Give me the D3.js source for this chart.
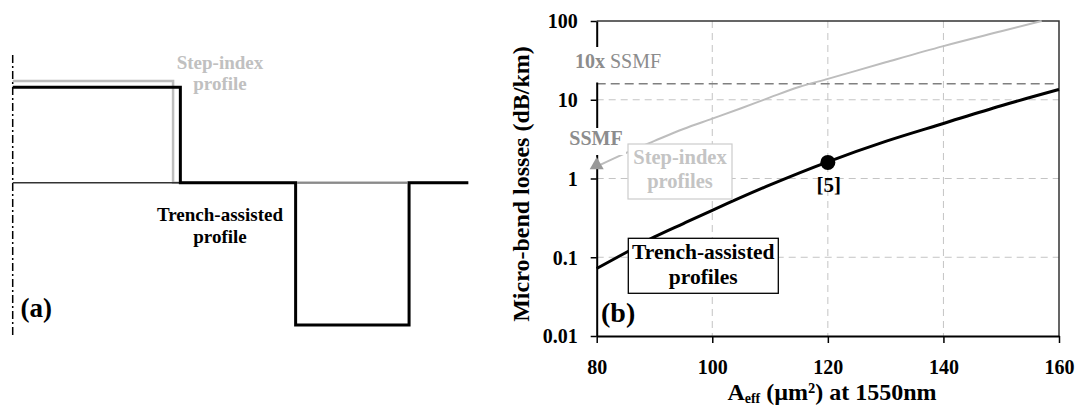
<!DOCTYPE html>
<html><head><meta charset="utf-8">
<script src="https://cdn.jsdelivr.net/npm/d3@7"></script>
<style>
html,body{margin:0;padding:0;background:#fff;}
svg{display:block;font-family:"Liberation Serif","Times New Roman",serif;font-weight:bold;}
</style></head>
<body>
<svg id="chart" width="1077" height="405"></svg>
<script>
// ---------- data: panel (a) index profiles (radius in %, index in arbitrary units)
const stepR = [0, 35.2, 35.2, 100];
const stepN = [5.0, 5.0, 0, 0];
const trenchR = [0, 36.8, 36.8, 62.1, 62.1, 87.0, 87.0, 100];
const trenchN = [4.69, 4.69, 0, 0, -7.0, -7.0, 0, 0];

// ---------- data: panel (b) micro-bend losses
const xTicks = [80, 100, 120, 140, 160];
const yTicks = [0.01, 0.1, 1, 10, 100];
const yTickLabels = ["0.01", "0.1", "1", "10", "100"];
const stepAeff = [80, 85, 90, 95, 100, 105, 110, 115, 120, 130, 140, 150, 157];
const stepLoss = [1.42, 2.1, 3.0, 4.25, 5.75, 7.8, 10.7, 14.5, 18.4, 29.9, 48, 74, 100];
const trenchAeff = [80, 85, 90, 95, 100, 110, 120, 130, 140, 150, 160];
const trenchLoss = [0.072, 0.114, 0.181, 0.268, 0.395, 0.83, 1.63, 2.96, 5.0, 8.4, 13.5];
const ssmfAeff = 80, ssmfLoss = 1.48;
const tenSsmfLoss = 16;
const refAeff = 120, refLoss = 1.6;

const FONT = "Liberation Serif, Times New Roman, serif";
const svg = d3.select("#chart");

// ================= Panel (a) =================
const ga = svg.append("g");
const ax = d3.scaleLinear().domain([0, 100]).range([12.7, 468.3]);
const ay = d3.scaleLinear().domain([0, 5]).range([182.7, 81]);

ga.append("line").attr("x1", ax(0)).attr("x2", ax(0)).attr("y1", 55).attr("y2", 338)
  .attr("stroke", "#000").attr("stroke-width", 1.5).attr("stroke-dasharray", "8,3,2,3");

const lineA = d3.line().x(d => ax(d[0])).y(d => ay(d[1]));
ga.append("path").datum(d3.zip(stepR, stepN)).attr("d", lineA)
  .attr("fill", "none").attr("stroke", "#bdbdbd").attr("stroke-width", 2.5);
ga.append("line").attr("x1", ax(0)).attr("x2", ax(36.8)).attr("y1", ay(0)).attr("y2", ay(0))
  .attr("stroke", "#333").attr("stroke-width", 1.6);
ga.append("path").datum(d3.zip(trenchR, trenchN)).attr("d", lineA)
  .attr("fill", "none").attr("stroke", "#000").attr("stroke-width", 3);
ga.append("line").attr("x1", ax(62.1) + 1.5).attr("x2", ax(87.0) - 1.5).attr("y1", ay(0)).attr("y2", ay(0))
  .attr("stroke", "#8a8a8a").attr("stroke-width", 2);

ga.append("text").attr("x", 220).attr("y", 68.5).attr("text-anchor", "middle")
  .attr("font-size", 19).attr("fill", "#c0c0c0").text("Step-index");
ga.append("text").attr("x", 220).attr("y", 89.5).attr("text-anchor", "middle")
  .attr("font-size", 19).attr("fill", "#c0c0c0").text("profile");
ga.append("text").attr("x", 220).attr("y", 221).attr("text-anchor", "middle")
  .attr("font-size", 19).attr("fill", "#000").text("Trench-assisted");
ga.append("text").attr("x", 220).attr("y", 242.5).attr("text-anchor", "middle")
  .attr("font-size", 19).attr("fill", "#000").text("profile");
ga.append("text").attr("x", 20.5).attr("y", 317).attr("font-size", 27).attr("fill", "#000").text("(a)");

// ================= Panel (b) =================
const L = 596.7, R = 1059, T = 21, B = 336;
const x = d3.scaleLinear().domain([80, 160]).range([L, R]);
const y = d3.scaleLog().domain([0.01, 100]).range([B, T]);
const gb = svg.append("g");

gb.selectAll(".vg").data(xTicks.slice(1, -1)).join("line")
  .attr("x1", d => x(d)).attr("x2", d => x(d)).attr("y1", T).attr("y2", B)
  .attr("stroke", "#c4c4c4").attr("stroke-width", 1).attr("stroke-dasharray", "7,5");
gb.selectAll(".hg").data(yTicks.slice(1, -1)).join("line")
  .attr("x1", L).attr("x2", R).attr("y1", d => y(d)).attr("y2", d => y(d))
  .attr("stroke", "#c4c4c4").attr("stroke-width", 1).attr("stroke-dasharray", "7,5");
gb.append("line").attr("x1", L).attr("x2", R).attr("y1", y(tenSsmfLoss)).attr("y2", y(tenSsmfLoss))
  .attr("stroke", "#808080").attr("stroke-width", 1.5).attr("stroke-dasharray", "9,5");

gb.append("path").attr("d", `M${L},${T}H${R}V${B}`).attr("fill", "none")
  .attr("stroke", "#333").attr("stroke-width", 1.5);

const lineB = d3.line().x(d => x(d[0])).y(d => y(d[1])).curve(d3.curveMonotoneX);
gb.append("path").datum(d3.zip(stepAeff, stepLoss)).attr("d", lineB)
  .attr("fill", "none").attr("stroke", "#bdbdbd").attr("stroke-width", 2);
gb.append("path").datum(d3.zip(trenchAeff, trenchLoss)).attr("d", lineB)
  .attr("fill", "none").attr("stroke", "#000").attr("stroke-width", 3);

const yAxis = d3.axisLeft(y).tickValues(yTicks).tickFormat((d, i) => yTickLabels[i])
  .tickSize(6).tickSizeOuter(0);
const gy = gb.append("g").attr("transform", `translate(${L},0)`).call(yAxis);
gy.select(".domain").attr("stroke", "#000").attr("stroke-width", 2);
gy.selectAll(".tick line").attr("stroke", "#000").attr("stroke-width", 1.5);
gy.selectAll(".tick text").attr("font-size", 20).attr("font-family", FONT)
  .attr("font-weight", "bold").attr("fill", "#000").attr("x", -19).attr("dy", "0.34em");

const xAxis = d3.axisBottom(x).tickValues(xTicks).tickFormat(d3.format("d"))
  .tickSize(7).tickSizeOuter(0);
const gx = gb.append("g").attr("transform", `translate(0,${B})`).call(xAxis);
gx.select(".domain").attr("stroke", "#000").attr("stroke-width", 2);
gx.selectAll(".tick line").attr("stroke", "#000").attr("stroke-width", 1.5);
gx.selectAll(".tick text").attr("font-size", 20).attr("font-family", FONT)
  .attr("font-weight", "bold").attr("fill", "#000").attr("y", 37.5).attr("dy", 0);

gb.append("text").attr("transform", `translate(529,184) rotate(-90)`)
  .attr("text-anchor", "middle").attr("font-size", 24).attr("fill", "#000")
  .text("Micro-bend losses (dB/km)");
const xt = gb.append("text").attr("x", 832).attr("y", 400).attr("text-anchor", "middle")
  .attr("font-size", 24).attr("fill", "#000");
xt.append("tspan").text("A");
xt.append("tspan").attr("font-size", 14).attr("dy", 3).text("eff");
xt.append("tspan").attr("dy", -3).text(" (µm²) at 1550nm");

gb.append("rect").attr("x", 568).attr("y", 47).attr("width", 98).attr("height", 35.5).attr("fill", "#fff");
const t10 = gb.append("text").attr("x", 575).attr("y", 67.5).attr("font-size", 20).attr("fill", "#8c8c8c");
t10.append("tspan").text("10x ");
t10.append("tspan").attr("font-weight", "normal").text("SSMF");

gb.append("rect").attr("x", 566).attr("y", 128).attr("width", 60).attr("height", 27).attr("fill", "#fff");
gb.append("text").attr("x", 596).attr("y", 145).attr("text-anchor", "middle")
  .attr("font-size", 20).attr("fill", "#8c8c8c").text("SSMF");
gb.append("path").attr("d", d3.symbol(d3.symbolTriangle, 85))
  .attr("transform", `translate(${x(ssmfAeff)},${y(ssmfLoss)})`).attr("fill", "#999");

gb.append("rect").attr("x", 628).attr("y", 144).attr("width", 104).attr("height", 55)
  .attr("fill", "#fff").attr("stroke", "#cccccc").attr("stroke-width", 1.2);
gb.append("text").attr("x", 680).attr("y", 163.5).attr("text-anchor", "middle")
  .attr("font-size", 20.5).attr("fill", "#c4c4c4").text("Step-index");
gb.append("text").attr("x", 680).attr("y", 188).attr("text-anchor", "middle")
  .attr("font-size", 20.5).attr("fill", "#c4c4c4").text("profiles");

gb.append("rect").attr("x", 628.3).attr("y", 238.3).attr("width", 150).attr("height", 55)
  .attr("fill", "#fff").attr("stroke", "#000").attr("stroke-width", 1.3);
gb.append("text").attr("x", 703.3).attr("y", 258.5).attr("text-anchor", "middle")
  .attr("font-size", 21.5).attr("fill", "#000").text("Trench-assisted");
gb.append("text").attr("x", 703.3).attr("y", 283.5).attr("text-anchor", "middle")
  .attr("font-size", 21.5).attr("fill", "#000").text("profiles");

gb.append("circle").attr("cx", x(refAeff)).attr("cy", y(refLoss)).attr("r", 7.5).attr("fill", "#000");
gb.append("text").attr("x", x(refAeff) + 1).attr("y", 191.5).attr("text-anchor", "middle")
  .attr("font-size", 21).attr("fill", "#000").text("[5]");

gb.append("text").attr("x", 601).attr("y", 322).attr("font-size", 28).attr("fill", "#000").text("(b)");
</script>
</body></html>
